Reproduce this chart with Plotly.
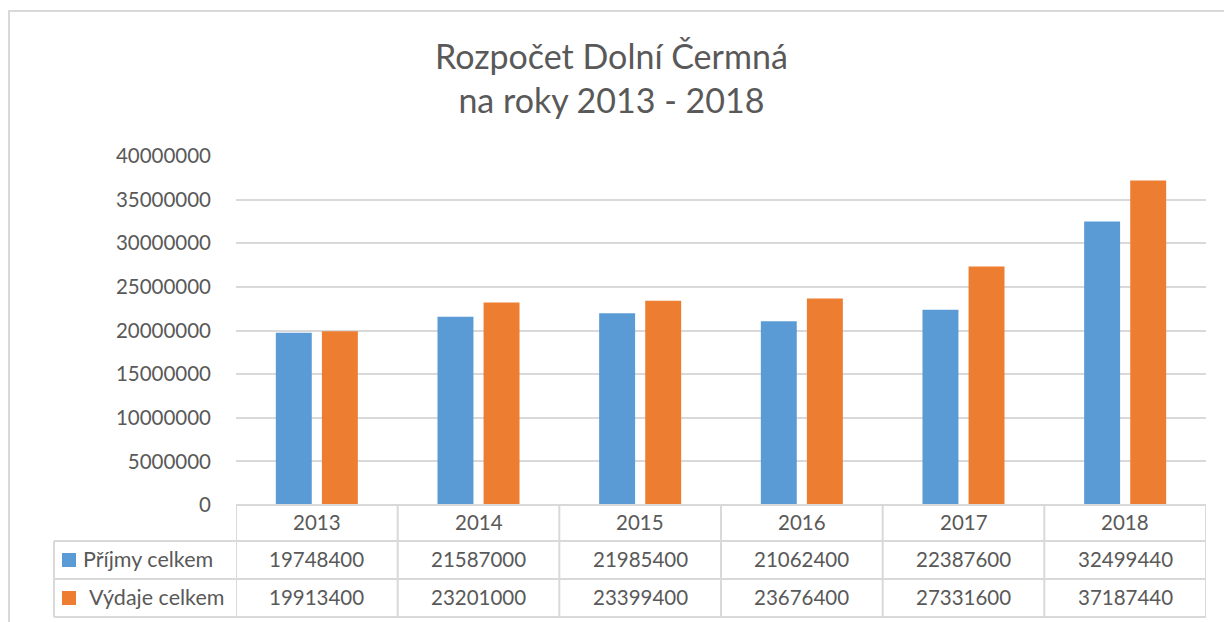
import plotly.graph_objects as go

years = ["2013", "2014", "2015", "2016", "2017", "2018"]
prijmy = [19748400, 21587000, 21985400, 21062400, 22387600, 32499440]
vydaje = [19913400, 23201000, 23399400, 23676400, 27331600, 37187440]
series_names = ["Příjmy celkem", "Výdaje celkem"]
colors = ["#5B9BD5", "#ED7D31"]
title_lines = ["Rozpočet Dolní Čermná", "na roky 2013 - 2018"]

W, H = 1224, 622
L, R, T, B = 236, 1206, 156, 505  # plot area in px
GRID = "#d9d9d9"
TXT = "#595959"
FONT = "Lato"
FS = 20.5

def px_x(px):
    return (px - L) / (R - L)

def px_y(py):
    return (B - py) / (B - T)

fig = go.Figure()
for name, vals, col in zip(series_names, [prijmy, vydaje], colors):
    fig.add_trace(go.Bar(x=years, y=vals, name=name, marker=dict(color=col, line=dict(width=0))))

shapes = []
annotations = []

# outer chart border
shapes.append(dict(type="rect", xref="paper", yref="paper",
                   x0=px_x(9), x1=px_x(1240), y0=px_y(11), y1=px_y(640),
                   line=dict(color=GRID, width=2), layer="below"))

# data table lines
row_y = [505, 541, 579, 617]
n = len(years)
shapes.append(dict(type="line", xref="x", yref="paper", x0=-0.5, x1=n - 0.5,
                   y0=px_y(row_y[0]), y1=px_y(row_y[0]), line=dict(color=GRID, width=2)))
for yy in row_y[1:]:
    shapes.append(dict(type="line", xref="paper", yref="paper", x0=px_x(54), x1=1,
                       y0=px_y(yy), y1=px_y(yy), line=dict(color=GRID, width=2)))
for i in range(n + 1):
    shapes.append(dict(type="line", xref="x", yref="paper", x0=i - 0.5, x1=i - 0.5,
                       y0=px_y(row_y[0]), y1=px_y(row_y[3]), line=dict(color=GRID, width=2)))
shapes.append(dict(type="line", xref="paper", yref="paper", x0=px_x(54), x1=px_x(54),
                   y0=px_y(row_y[1]), y1=px_y(row_y[3]), line=dict(color=GRID, width=2)))

def txt(x, y, text, xref="x", xanchor="center", size=FS):
    return dict(x=x, y=y, xref=xref, yref="paper", text=text, showarrow=False,
                xanchor=xanchor, yanchor="middle",
                font=dict(family=FONT, size=size, color=TXT))

# header cells
for i, yr in enumerate(years):
    annotations.append(txt(i, px_y((row_y[0] + row_y[1]) / 2 - 1), yr))
# value rows
for r, (name, vals, col) in enumerate(zip(series_names, [prijmy, vydaje], colors)):
    yc = (row_y[r + 1] + row_y[r + 2]) / 2
    for i, v in enumerate(vals):
        annotations.append(txt(i, px_y(yc - 1), str(v)))
    shapes.append(dict(type="rect", xref="paper", yref="paper",
                       x0=px_x(62), x1=px_x(76), y0=px_y(yc - 7), y1=px_y(yc + 7),
                       fillcolor=col, line=dict(width=0)))
    annotations.append(txt(px_x(81 + 6 * r), px_y(yc - 1), name, xref="paper",
                           xanchor="left", size=21.5))

# title
annotations.append(dict(x=px_x(611), y=px_y(77), xref="paper", yref="paper",
                        text="<br>".join(title_lines), showarrow=False,
                        xanchor="center", yanchor="middle",
                        font=dict(family=FONT, size=34, color=TXT)))

fig.update_layout(
    width=W, height=H,
    margin=dict(l=L, r=W - R, t=T, b=H - B, pad=0),
    paper_bgcolor="white", plot_bgcolor="white",
    showlegend=False,
    barmode="group", bargap=0.43, bargroupgap=0.22,
    shapes=shapes, annotations=annotations,
    xaxis=dict(type="category", range=[-0.5, n - 0.5], showticklabels=False,
               showgrid=False, zeroline=False, showline=False, ticks=""),
    yaxis=dict(range=[0, 40000000], dtick=5000000, tickformat="d",
               showgrid=True, gridcolor=GRID, gridwidth=2, zeroline=False,
               showline=False, ticks="", ticklabelstandoff=24,
               tickfont=dict(family=FONT, size=FS, color=TXT)),
)

fig.write_html("out.html", config={"displayModeBar": False},
               post_script="document.body.style.margin='0';document.body.style.overflow='hidden';")
